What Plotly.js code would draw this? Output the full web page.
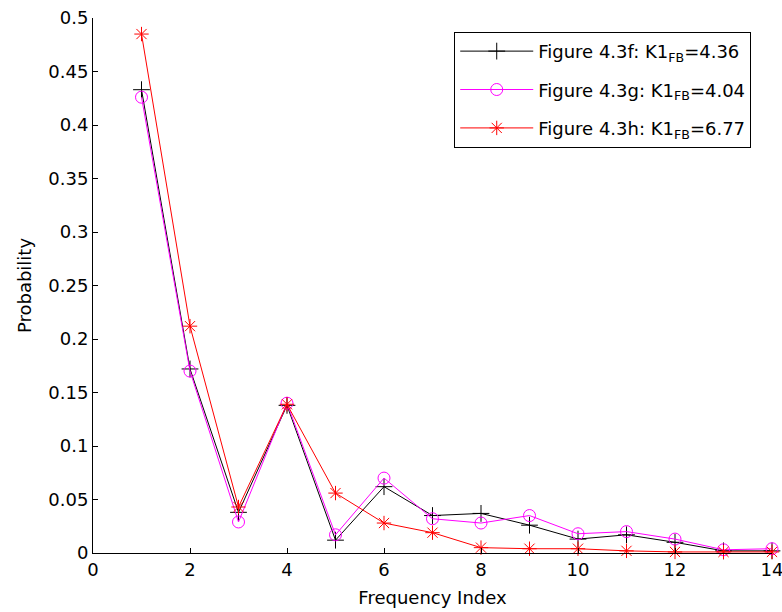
<!DOCTYPE html>
<html>
<head>
<meta charset="utf-8">
<script src="https://cdn.plot.ly/plotly-3.0.1.min.js"></script>
<style>html,body{margin:0;padding:0;background:#fff;}#chart{width:782px;height:612px;}</style>
</head>
<body>
<div id="chart"></div>
<script>
var frequencyIndex = [1, 2, 3, 4, 5, 6, 7, 8, 9, 10, 11, 12, 13, 14];
var fig43f = [0.433, 0.172, 0.038, 0.138, 0.012, 0.062, 0.035, 0.037, 0.026, 0.013, 0.017, 0.010, 0.002, 0.002];
var fig43g = [0.426, 0.170, 0.029, 0.140, 0.017, 0.070, 0.032, 0.028, 0.035, 0.018, 0.020, 0.013, 0.003, 0.004];
var fig43h = [0.485, 0.212, 0.043, 0.139, 0.056, 0.028, 0.019, 0.005, 0.004, 0.004, 0.002, 0.001, 0.001, 0.001];
var seriesNames = [
  "Figure 4.3f: K1<sub>FB</sub>=4.36",
  "Figure 4.3g: K1<sub>FB</sub>=4.04",
  "Figure 4.3h: K1<sub>FB</sub>=6.77"
];
var xTicks = [0, 2, 4, 6, 8, 10, 12, 14];
var yTicks = [0, 0.05, 0.1, 0.15, 0.2, 0.25, 0.3, 0.35, 0.4, 0.45, 0.5];
var yTickText = ["0", "0.05", "0.1", "0.15", "0.2", "0.25", "0.3", "0.35", "0.4", "0.45", "0.5"];

var FONT = "DejaVu Sans, Liberation Sans, Arial, sans-serif";

function mk(y, name, color, symbol, group) {
  return {
    x: frequencyIndex, y: y, name: name, type: "scatter", mode: "lines+markers",
    legendgroup: group, cliponaxis: false,
    line: {color: color, width: 1},
    marker: {symbol: symbol, size: 12, color: color, line: {color: color, width: 1}}
  };
}

var data = [
  mk(fig43f, seriesNames[0], "#000000", "cross-thin-open", "a"),
  mk(fig43g, seriesNames[1], "#ff00ff", "circle-open", "b"),
  mk(fig43h, seriesNames[2], "#ff0000", "asterisk-open", "c")
];

var layout = {
  width: 782, height: 612,
  margin: {l: 93, r: 10, t: 18, b: 59, pad: 0},
  paper_bgcolor: "#ffffff", plot_bgcolor: "#ffffff",
  font: {family: FONT, size: 18, color: "#000"},
  showlegend: true,
  legend: {
    x: 0.532, y: 0.974, xanchor: "left", yanchor: "top",
    bgcolor: "#ffffff", bordercolor: "#000000", borderwidth: 1,
    font: {family: FONT, size: 18, color: "#000"},
    traceorder: "grouped", tracegroupgap: 12, itemwidth: 73
  },
  xaxis: {
    range: [0, 14], tickmode: "array", tickvals: xTicks,
    ticks: "inside", ticklen: 5, tickwidth: 1, tickcolor: "#000",
    showline: true, linecolor: "#000", linewidth: 1, mirror: false,
    showgrid: false, zeroline: false, ticklabeloverflow: "allow",
    tickfont: {family: FONT, size: 18, color: "#000"},
    title: {text: "Frequency Index", font: {family: FONT, size: 18, color: "#000"}, standoff: 12}
  },
  yaxis: {
    range: [0, 0.5], tickmode: "array", tickvals: yTicks, ticktext: yTickText,
    ticks: "inside", ticklen: 5, tickwidth: 1, tickcolor: "#000",
    showline: true, linecolor: "#000", linewidth: 1, mirror: false,
    showgrid: false, zeroline: false, ticklabeloverflow: "allow",
    tickfont: {family: FONT, size: 18, color: "#000"},
    title: {text: "Probability", font: {family: FONT, size: 18, color: "#000"}, standoff: 12}
  }
};

Plotly.newPlot("chart", data, layout, {displayModeBar: false, staticPlot: true});
</script>
</body>
</html>
